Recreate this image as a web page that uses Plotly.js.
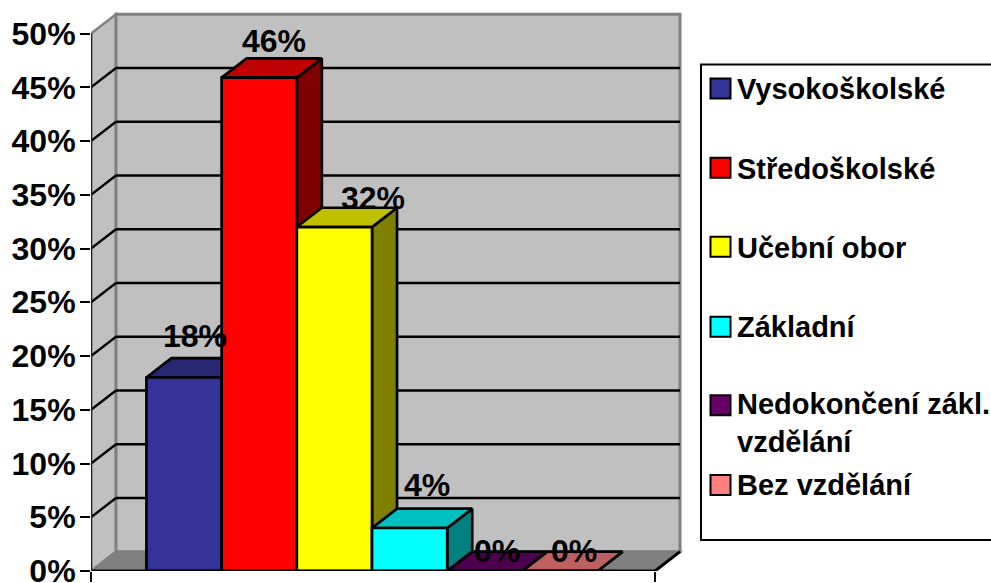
<!DOCTYPE html>
<html><head><meta charset="utf-8">
<script src="https://cdn.plot.ly/plotly-3.0.1.min.js"></script>
<style>html,body{margin:0;padding:0;background:#fff;overflow:hidden}</style>
</head><body><div id="chart" style="width:991px;height:583px"></div>
<script>
const categories = ["Vysokoškolské","Středoškolské","Učební obor","Základní","Nedokončení zákl.<br>vzdělání","Bez vzdělání"];
const values = [18, 45.9, 32, 4, 0, 0];
const frontColors = ["#333399","#FF0000","#FFFF00","#00FFFF","#660066","#FF8080"];
const topColors = ["#262673","#BF0000","#BFBF00","#00BFBF","#4D004D","#BF6060"];
const sideColors = ["#1A1A4D","#800000","#808000","#008080","#330033","#804040"];
const yTicks = [0,5,10,15,20,25,30,35,40,45,50];

// layout geometry
const W=991,H=583,pL=91,pR=683,pT=11.45,pB=571;
const unitX=75.2, unitY=10.74;
const dx=25/unitX, dy=19.3/unitY;
const xMax=(pR-pL)/unitX, yMax=(pB-pT)/unitY;
const span=7.5, gap=0.737, wallX=span+dx, wallY=50+dy;
const FONT="Liberation Sans";
const labelDx=[11,15,39,17,12,14];
const labelDy=[-42,-37,-29.5,-43,-20,-20];
const legendSwatchY=[89,168,247,327,405.5,485];
const legendTextY=[89,169,248,327,423,485];
const px2x=p=>(p-pL)/(pR-pL), px2y=p=>(pB-p)/(pB-pT);

function poly(xs,ys,fill,color,width,axes){
  return {type:"scatter",mode:"lines",x:xs,y:ys,fill:fill?"toself":"none",fillcolor:fill||undefined,
    line:{color:color,width:width},cliponaxis:false,showlegend:false,hoverinfo:"skip",
    xaxis:axes?axes[0]:"x",yaxis:axes?axes[1]:"y"};
}
const traces=[];
categories.forEach((c,i)=>{
  const l=gap+i, r=l+1, v=values[i];
  traces.push(poly([r,r+dx,r+dx,r,r],[0,dy,v+dy,v,0],sideColors[i],"#000",2.7));
  traces.push(poly([l,r,r+dx,l+dx,l],[v,v,v+dy,v+dy,v],topColors[i],"#000",2.7));
});
// front faces on an overlaid subplot so each sits above its neighbour's depth faces
categories.forEach((c,i)=>{
  traces.push({type:"bar",x:[gap+i+0.5],y:[values[i]],width:[1],name:c.replace("<br>"," "),
    marker:{color:frontColors[i],line:{color:"#000",width:2.7}},xaxis:"x2",yaxis:"y2",showlegend:false,hoverinfo:"skip"});
});
traces.push(poly([0,span,span+dx],[0,0,dy],null,"#000",3,["x2","y2"]));
traces.push(poly([0,0],[0,50],null,"#222",2.5,["x2","y2"]));

const shapes=[];
const dataPath=(pts,fill,color,w)=>({type:"path",xref:"x",yref:"y",layer:"below",
  path:"M"+pts.map(p=>p.join(",")).join("L")+"Z",fillcolor:fill,line:{color:color,width:w}});
shapes.push(dataPath([[0,0],[dx,dy],[dx,wallY],[0,50]],"#C0C0C0","#808080",2.5));
shapes.push(dataPath([[dx,dy],[wallX,dy],[wallX,wallY],[dx,wallY]],"#C0C0C0","#808080",3));
shapes.push(dataPath([[0,0],[dx,dy],[wallX,dy],[span,0]],"#808080","#808080",2));
yTicks.filter(t=>t>0&&t<50).forEach(t=>{
  shapes.push({type:"line",xref:"x",yref:"y",layer:"below",x0:0,y0:t,x1:dx,y1:t+dy,line:{color:"#000",width:2.4}});
  shapes.push({type:"line",xref:"x",yref:"y",layer:"below",x0:dx,y0:t+dy,x1:wallX,y1:t+dy,line:{color:"#000",width:2.4}});
});
// legend box
shapes.push({type:"rect",xref:"paper",yref:"paper",x0:px2x(701),x1:px2x(1000),y0:px2y(65),y1:px2y(540),
  fillcolor:"#fff",line:{color:"#000",width:2}});
const annotations=[];
categories.forEach((c,i)=>{
  const sy=legendSwatchY[i];
  shapes.push({type:"rect",xref:"paper",yref:"paper",x0:px2x(710.5),x1:px2x(730.5),y0:px2y(sy-10),y1:px2y(sy+10),
    fillcolor:frontColors[i],line:{color:"#000",width:2}});
  annotations.push({xref:"paper",yref:"paper",x:px2x(735),y:px2y(legendTextY[i]),text:c,showarrow:false,
    xanchor:"left",yanchor:"middle",align:"left",font:{family:FONT,size:29,color:"#000",weight:700}});
  annotations.push({xref:"x",yref:"y",x:gap+i+0.5,y:values[i],xshift:labelDx[i],yshift:-labelDy[i],
    text:Math.round(values[i])+"%",showarrow:false,xanchor:"center",yanchor:"middle",
    font:{family:FONT,size:32,color:"#000",weight:700}});
});

const layout={width:W,height:H,paper_bgcolor:"#fff",plot_bgcolor:"rgba(0,0,0,0)",showlegend:false,
  margin:{l:pL,r:W-pR,t:pT,b:H-pB,pad:0},barmode:"overlay",shapes:shapes,annotations:annotations,
  xaxis:{range:[0,xMax],tickmode:"array",tickvals:[0,span],ticktext:["",""],ticks:"outside",ticklen:10,tickwidth:2,tickcolor:"#000",showgrid:false,zeroline:false,showline:false},
  yaxis:{range:[0,yMax],tickmode:"array",tickvals:yTicks,ticktext:yTicks.map(t=>t+"%"),ticks:"outside",ticklen:10,tickwidth:2,tickcolor:"#000",showgrid:false,zeroline:false,showline:false,
    tickfont:{family:FONT,size:32,color:"#000",weight:700},ticklabelstandoff:-2,ticklabeloverflow:"allow"},
  xaxis2:{range:[0,xMax],overlaying:"x",anchor:"y2",visible:false},
  yaxis2:{range:[0,yMax],overlaying:"y",anchor:"x2",visible:false}
};
Plotly.newPlot("chart",traces,layout,{displayModeBar:false,staticPlot:true});
</script></body></html>
